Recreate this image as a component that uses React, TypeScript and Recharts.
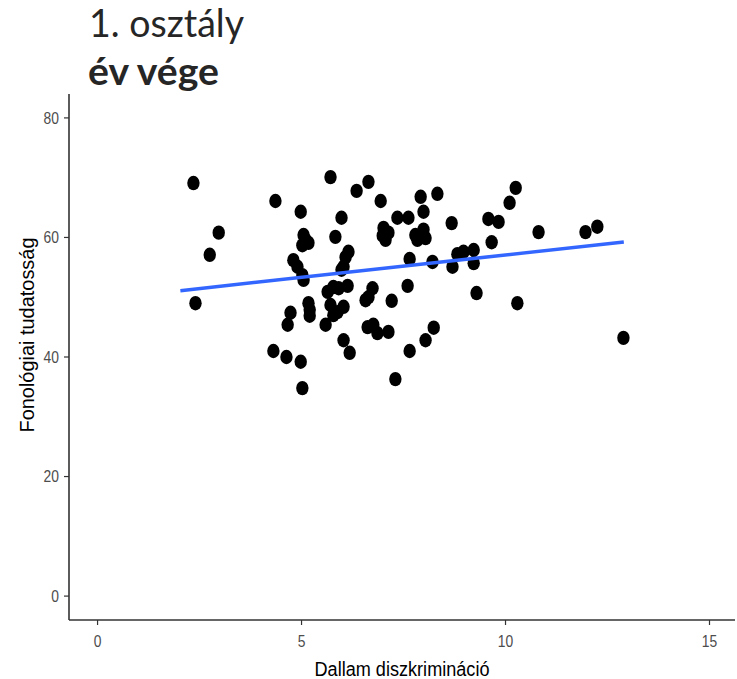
import React from 'react';
import { ScatterChart, Scatter, XAxis, YAxis } from 'recharts';

const titleLine1 = '1. osztály';
const titleLine2 = 'év vége';
const xTitle = 'Dallam diszkrimináció';
const yTitle = 'Fonológiai tudatosság';

const xTicks = [0, 5, 10, 15];
const yTicks = [0, 20, 40, 60, 80];

const dallam = [
  2.35, 2.40, 2.75, 2.97, 4.36, 4.31, 4.63, 4.98, 5.02, 4.98,
  4.80, 4.90, 5.02, 5.05, 5.05, 5.10, 5.17, 5.02, 4.73, 4.66,
  5.17, 5.20, 5.20, 5.59, 5.71, 6.35, 6.64, 6.94, 7.92, 8.33,
  5.98, 7.35, 7.62, 7.99, 8.68, 9.58, 9.83, 7.01, 7.06, 7.13,
  6.99, 7.79, 7.99, 8.04, 7.84, 5.83, 9.66, 6.15, 6.08, 6.03,
  5.98, 7.65, 8.21, 8.82, 8.97, 8.70, 9.22, 9.22, 5.64, 5.78,
  5.91, 6.13, 6.74, 6.57, 6.64, 7.60, 7.21, 9.29, 5.71, 5.78,
  6.03, 5.88, 6.62, 6.76, 6.86, 7.13, 6.03, 6.18, 8.24, 8.04,
  7.65, 7.30, 10.25, 10.10, 10.81, 11.96, 12.25, 10.29, 12.89,
];

const fonologiai = [
  69.1, 49.0, 57.1, 60.8, 66.1, 41.0, 40.0, 39.2, 34.8, 64.3,
  56.2, 55.1, 53.7, 52.9, 60.4, 59.6, 59.1, 58.7, 47.4, 45.4,
  49.0, 47.9, 46.9, 45.4, 70.1, 67.8, 69.3, 66.1, 66.8, 67.3,
  63.3, 63.3, 63.3, 64.3, 62.4, 63.1, 62.6, 61.6, 59.6, 60.8,
  60.3, 60.4, 61.3, 59.9, 59.6, 60.1, 59.2, 57.6, 56.7, 55.1,
  54.6, 56.4, 55.9, 57.2, 57.6, 55.1, 57.9, 55.7, 50.9, 51.7,
  51.5, 51.9, 51.5, 49.5, 50.0, 51.9, 49.4, 50.7, 48.7, 47.0,
  48.4, 47.5, 45.0, 45.4, 44.0, 44.2, 42.8, 40.7, 44.9, 42.8,
  41.0, 36.3, 68.3, 65.8, 60.9, 60.9, 61.8, 49.0, 43.2,
];

const fitX = [2.03, 12.9];
const fitY = [51.1, 59.25];

const points = dallam.map((x, i) => ({ x, y: fonologiai[i] }));
const fitLine = fitX.map((x, i) => ({ x, y: fitY[i] }));

const AXIS_FONT = '"Liberation Sans", Arial, sans-serif';
const TICK_FS = 16.5;
const tickLen = (v: any) => String(v).length * TICK_FS * 0.556 * 0.84;

const Dot = (props: any) => {
  const { cx, cy } = props;
  if (cx == null || cy == null) return <g />;
  return <ellipse cx={cx} cy={cy} rx={6.2} ry={7.2} fill="#000" />;
};

const NoDot = () => <g />;

const XTick = (props: any) => {
  const { x, y, payload } = props;
  return (
    <text x={x} y={y + 20} textAnchor="middle" fill="#4d4d4d" fontSize={TICK_FS} fontFamily={AXIS_FONT}
      textLength={tickLen(payload.value)} lengthAdjust="spacingAndGlyphs">
      {payload.value}
    </text>
  );
};

const YTick = (props: any) => {
  const { x, y, payload } = props;
  return (
    <text x={x - 3} y={y} dy="0.36em" textAnchor="end" fill="#4d4d4d" fontSize={TICK_FS} fontFamily={AXIS_FONT}
      textLength={tickLen(payload.value)} lengthAdjust="spacingAndGlyphs">
      {payload.value}
    </text>
  );
};

export default function App() {
  return (
    <div style={{ position: 'absolute', left: 0, top: 0, width: 737, height: 679, background: '#fff' }}>
      <ScatterChart width={737} height={679} margin={{ top: 94, right: 2, left: 0, bottom: 0 }}>
        <XAxis
          type="number"
          dataKey="x"
          domain={[-0.7, 15.625]}
          ticks={xTicks}
          allowDataOverflow
          height={59}
          axisLine={{ stroke: '#333', strokeWidth: 1.6 }}
          tickLine={{ stroke: '#333', strokeWidth: 1.2 }}
          tickSize={5}
          tick={<XTick />}
        />
        <YAxis
          type="number"
          dataKey="y"
          domain={[-4, 84]}
          ticks={yTicks}
          allowDataOverflow
          width={69}
          axisLine={{ stroke: '#333', strokeWidth: 1.6 }}
          tickLine={{ stroke: '#333', strokeWidth: 1.2 }}
          tickSize={5}
          tick={<YTick />}
        />
        <Scatter data={points} fill="#000" shape={<Dot />} isAnimationActive={false} />
        <Scatter
          data={fitLine}
          line={{ stroke: '#3366FF', strokeWidth: 3.5 }}
          shape={<NoDot />}
          isAnimationActive={false}
        />
      </ScatterChart>
      <svg
        width={737}
        height={679}
        style={{ position: 'absolute', left: 0, top: 0, pointerEvents: 'none' }}
      >
        <text x={89} y={37} fontFamily="Lato, sans-serif" fontSize={38} fill="#262626" textLength={155} lengthAdjust="spacingAndGlyphs">
          {titleLine1}
        </text>
        <text x={88} y={85} fontFamily="Lato, sans-serif" fontWeight="bold" fontSize={38} fill="#262626" textLength={131} lengthAdjust="spacingAndGlyphs">
          {titleLine2}
        </text>
        <text x={402} y={676} textAnchor="middle" fontFamily={AXIS_FONT} fontSize={19.5} fill="#000" textLength={175} lengthAdjust="spacingAndGlyphs">
          {xTitle}
        </text>
        <text
          x={34}
          y={335}
          transform="rotate(-90 34 335)"
          textAnchor="middle"
          fontFamily={AXIS_FONT}
          fontSize={19.5}
          fill="#000"
          textLength={195}
          lengthAdjust="spacingAndGlyphs"
        >
          {yTitle}
        </text>
      </svg>
    </div>
  );
}
